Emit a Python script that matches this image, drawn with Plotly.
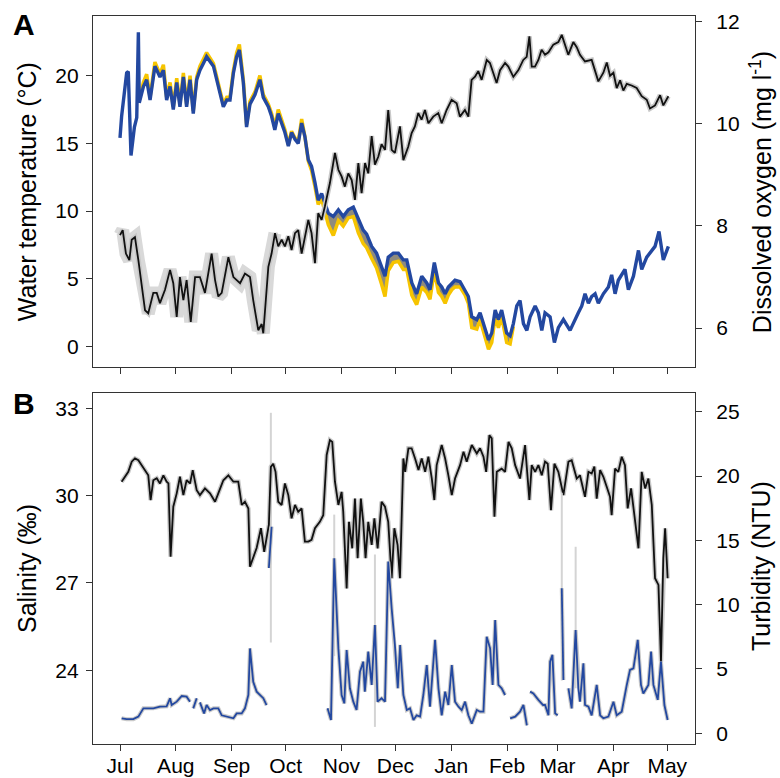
import pandas as pd
import plotly.graph_objects as go

BASE = pd.Timestamp("2016-07-01")

# ---------------- Panel A: water temperature (deg C) ----------------
temp_days = [0, 0.9, 3.7, 4.6, 6.1, 8, 9.3, 10.2, 10.7, 13, 14.8, 16.7, 19.4, 22.2, 24.1, 25.9, 27.8, 29.6,
             31.5, 33.3, 35.2, 37, 38.9, 40.7, 42.6, 44.4, 46.3, 48.1, 51.9, 53.7, 55.6, 57.4, 59.3, 61.1,
             63, 64.8, 66.3, 68.5, 70.3, 72.2, 75, 77.7, 79.6, 82.4, 84.2, 86, 87.9, 89.8, 91.6, 93.5, 95.3,
             97.2, 99, 100.9, 102.7, 104.6, 106.4, 108.3, 110.1, 112, 113.8, 115.7, 118.5, 121.3, 124,
             126.8, 129.6, 132.4, 135.1, 137, 139.8, 142.5, 145.3, 147.2, 149, 151.8, 154.6, 157.4, 159.3,
             162.1, 164.8, 167.6, 170.4, 172.2, 174.6, 176.9, 178.7, 180.6, 182.4, 184.3, 186.1, 188.9,
             191.7, 193.5, 195.4, 198.2, 200, 201.9, 204.7, 206.5, 208.4, 210.2, 212, 214.8, 216.7, 218.5,
             220.4, 222.2, 224.1, 226, 227.8, 230.6, 232.4, 234.3, 236.1, 238.9, 241.3, 243.5, 246.3, 250,
             251.9, 254.6, 256.5, 258.3, 260.2, 262, 263.9, 265.7, 268.5, 271.3, 273.1, 275, 276.8, 280.5,
             282.4, 285.2, 288, 289.8, 292.6, 295.4, 297.2, 299.4, 301.8, 304.6]
temp_blue = [15.4, 17.0, 20.2, 20.3, 14.1, 16.2, 16.9, 23.2, 18.0, 19.2, 19.7, 18.2, 20.7, 19.9, 20.4, 18.2,
             19.2, 17.5, 19.5, 17.7, 19.9, 17.7, 19.7, 17.2, 19.7, 20.4, 20.9, 21.4, 20.7, 19.7, 18.7, 17.7,
             18.2, 18.2, 20.2, 21.4, 21.9, 19.5, 16.2, 17.9, 18.6, 19.7, 18.4, 17.7, 17.0, 16.0, 17.2, 16.5,
             15.8, 14.8, 15.8, 15.3, 15.0, 16.5, 15.5, 13.8, 13.3, 12.1, 10.8, 11.3, 10.6, 9.85, 9.6, 10.1,
             9.6, 10.1, 10.3, 9.35, 8.6, 8.3, 7.4, 6.9, 5.9, 5.2, 6.6, 6.9, 6.9, 6.4, 6.4,
             4.7, 3.9, 5.2, 4.7, 4.2, 6.2, 4.7, 4.4, 3.9, 4.4, 4.7, 4.9, 4.8,
             4.2, 3.7, 2.2, 2.0, 2.5, 1.7, 0.5, 1.0, 2.7, 2.0, 2.7, 1.0, 0.8, 1.7,
             3.0, 3.4, 1.7, 1.2, 2.2, 3.0, 2.5, 1.2, 2.5, 2.2, 0.3, 1.4, 2.0, 1.2,
             1.8, 2.5, 3.0, 3.9, 3.2, 3.7, 3.9, 3.2, 3.9, 4.4, 5.3, 3.9, 4.9, 5.7,
             4.2, 5.2, 7.1, 5.7, 6.6, 7.1, 7.4, 8.5, 6.4, 7.4]

# second (yellow) sensor, where it shows beside the blue one
temp_yel_days = [10.7, 13, 14.8, 16.7, 19.4, 22.2, 24.1, 25.9, 27.8, 29.6, 31.5, 33.3, 35.2, 37, 38.9,
                 40.7, 42.6, 44.4, 46.3, 48.1, 51.9, 53.7, 55.6, 57.4, 59.3, 61.1, 63, 64.8, 66.3, 68.5,
                 70.3, 72.2, 75, 77.7, 79.6, 82.4, 84.2, 86, 87.9, 89.8, 91.6, 93.5, 95.3, 97.2, 99, 100.9,
                 102.7, 104.6, 106.4, 108.3, 110.1, 112, 113.8, 115.7, 118.5, 121.3, 124, 126.8, 129.6,
                 132.4, 135.1, 137, 139.8, 142.5, 145.3, 147.2, 149, 151.8, 154.6, 157.4, 159.3, 162.1,
                 164.8, 167.6, 170.4, 172.2, 174.6, 176.9, 178.7, 180.6, 182.4, 184.3, 186.1, 188.9, 191.7,
                 193.5, 195.4, 198.2, 200, 201.9, 204.7, 206.5, 208.4, 210.2, 212, 214.8, 216.7, 218.5]
temp_yel = [18.2, 19.5, 20.1, 18.4, 21.0, 20.1, 20.8, 18.4, 19.5, 17.7, 19.8, 17.9, 20.2, 17.9, 20.0,
            17.4, 19.9, 20.7, 21.2, 21.7, 20.9, 19.9, 18.9, 17.9, 18.4, 18.4, 20.4, 21.7, 22.3, 19.7,
            16.4, 18.1, 18.8, 20.0, 18.6, 17.9, 17.2, 16.2, 17.5, 16.7, 16.0, 14.9, 15.9, 15.4, 15.1, 16.8,
            15.5, 13.7, 13.0, 11.8, 10.5, 10.9, 10.0, 9.0, 8.2, 9.3, 8.9, 9.5, 9.6,
            8.4, 7.6, 7.3, 6.5, 5.8, 4.6, 3.7, 5.6, 6.2, 6.3, 5.7, 5.7, 3.8,
            3.1, 4.4, 4.0, 3.5, 5.6, 4.0, 3.7, 3.2, 3.8, 4.2, 4.4, 4.4, 3.8,
            3.2, 1.4, 1.3, 2.0, 1.1, -0.2, 0.3, 2.2, 1.4, 2.2, 0.3, 0.2, 1.5]

# ---------------- Panel A: dissolved oxygen (mg/l) ----------------
do_days = [0, 1.5, 3.3, 5.2, 6.5, 8.3, 10.2, 12, 13.9, 15.7, 18.5, 20.4, 22.2, 25, 27.8, 29.6, 31.5, 33.3,
           35.2, 37, 39.3, 41.7, 44.4, 47.2, 50.9, 52.8, 54.6, 56.5, 60.2, 63, 66.7, 69.4, 72.2, 74, 76.8,
           78.7, 79.6, 82.4, 84.2, 86.1, 87.9, 89.8, 91.6, 93.5, 95.3, 97.2, 99, 100.9, 102.7, 104.6, 106.4,
           108.3, 110.1, 112, 113.8, 116.6, 119.4, 121.3, 123.1, 124.9, 126.8, 128.7, 130.5, 132.4, 134.2,
           136.1, 137.9, 139.8, 141.6, 143.5, 145.3, 147.2, 149, 150.9, 152.7, 155.5, 157.4, 160.1, 162,
           163.8, 165.7, 167.5, 169.4, 171.3, 174, 176.8, 178.7, 181.4, 184.2, 187, 188.8, 191.6, 193.5,
           195.3, 197.2, 199, 200.9, 203.7, 205.5, 207.4, 209.2, 211.1, 213.9, 215.7, 218.5, 221.3, 224,
           225.9, 227.4, 228.7, 230.5, 232.4, 234.2, 236.1, 238, 240.7, 243.5, 245.4, 247.2, 249, 251.8,
           253.7, 255.5, 258.3, 262, 265.7, 268.5, 270.4, 272.2, 274.1, 275.9, 277.8, 279.6, 281.5, 284.2,
           287, 289.8, 292.6, 294.4, 297.2, 300, 301.8, 304.6]
do_vals = [7.82, 7.92, 7.46, 7.33, 7.73, 7.78, 7.33, 6.88, 6.35, 6.29, 6.69, 6.69, 6.49, 6.75, 7.14, 6.88,
           6.22, 7.0, 6.55, 6.94, 6.12, 7.0, 7.0, 6.69, 7.46, 6.94, 6.62, 6.69, 7.39, 7.0, 6.88, 7.07, 7.0,
           6.55, 5.96, 6.08, 5.9, 7.2, 7.46, 7.86, 7.6, 7.73, 7.6, 7.8, 7.53, 7.86, 7.92, 7.46, 7.8, 8.12,
           7.86, 7.27, 8.25, 8.12, 8.38, 8.84, 9.43, 9.1, 8.97, 8.77, 9.03, 8.9, 8.51, 9.23, 8.64,
           9.23, 9.03, 9.76, 9.2, 9.36, 9.6, 9.49, 10.27, 9.49, 9.43, 9.95, 9.29, 9.55, 9.82,
           9.95, 10.21, 10.08, 10.27, 10.01, 10.14, 10.21, 10.01, 10.27, 10.47, 10.4, 10.14, 10.27, 10.14,
           10.86, 10.92, 11.03, 10.86, 11.25, 11.19, 11.0, 10.8, 11.05, 11.19, 11.12, 10.92, 11.05, 11.25,
           11.31, 11.71, 11.12, 11.12, 11.25, 11.45, 11.35, 11.4, 11.55, 11.6, 11.74, 11.52, 11.35, 11.6,
           11.5, 11.35, 11.22, 11.25, 10.83, 11.0, 11.2, 10.94, 11.0, 10.7, 10.85, 10.65, 10.78, 10.75,
           10.7, 10.54, 10.47, 10.3, 10.36, 10.56, 10.36, 10.54]

# ---------------- Panel B: salinity (per mille) ----------------
sal_days = [0.9, 2.8, 4.6, 6.5, 8.3, 10.2, 12, 13.9, 15.7, 17, 18.5, 20.4, 22.2, 24.1, 25.9, 26.9, 28.1,
            29.6, 31.5, 33.3, 35.2, 37, 38.9, 40.4, 42.6, 44.4, 47.2, 50, 52.8, 54.6, 57.4, 60.2, 63, 65.7,
            67.6, 69.4, 71.3, 72.2, 74, 75.9, 78.3, 80.1, 82.7, 83.8, 85.1, 86.4, 87.9, 89.8, 91.6, 93.5,
            95.3, 97.2, 99, 100.9, 102.7, 104.6, 106.4, 108.3, 111, 112.9, 114.8, 116.6, 117.9, 119.4,
            121.3, 123.1, 124, 125.9, 127.2, 129, 130.5, 132, 133.8, 135.1, 136.4, 137.9, 139.8, 141.3,
            143.1, 145.3, 147.2, 149, 150.9, 152.4, 154.2, 155.5, 157.4, 158.4, 160.2, 162, 163.9, 165.8,
            167.6, 169.5, 171.3, 173.2, 174.6, 175.9, 178.7, 180.6, 182.4, 184.3, 186.1, 188.9, 190.8,
            192.6, 195.4, 198.2, 200, 201.9, 203.4, 205.2, 206.5, 208, 209.3, 212, 213.9, 215.8, 217.6,
            219.5, 222.2, 225, 227.4, 228.7, 230.6, 232.4, 234.3, 236.1, 237.6, 239.4, 241.3, 243.5,
            246.3, 249.1, 250.9, 253.7, 255.5, 258.3, 260.2, 262, 263.5, 264.8, 266.7, 268.5, 270.4,
            272.2, 273.1, 275, 276.8, 278.7, 280.5, 282, 283.9, 285.7, 288, 289.8, 291.7, 293.5, 295.4,
            297.2, 299.1, 300.5, 301.8, 302.8, 304.2]
sal_vals = [30.48, 30.65, 30.82, 31.17, 31.28, 31.22, 31.05, 30.88, 30.7, 29.85, 30.53, 30.6, 30.42, 30.7,
            30.48, 30.42, 27.9, 29.62, 30.08, 30.65, 30.02, 30.53, 30.42, 30.88, 30.19, 30.02, 30.25,
            30.08, 29.79, 30.08, 30.53, 30.7, 30.48, 30.48, 29.68, 29.79, 29.56, 27.56, 27.85, 28.2, 28.88,
            28.07, 29.0, 30.99, 31.1, 30.82, 29.79, 29.68, 30.42, 30.02, 29.22, 29.68, 29.45, 29.56, 28.42,
            28.42, 28.48, 28.88, 29.1, 29.33, 31.4, 31.91, 31.85, 30.48, 29.68, 30.13, 29.45, 26.81, 29.1,
            28.19, 29.9, 27.85, 29.9, 29.1, 27.85, 29.1, 28.31, 29.22, 28.19, 29.79, 29.62, 29.1, 27.16,
            28.88, 28.3, 27.16, 31.28, 30.82, 31.63, 31.63, 31.28, 30.88, 31.28, 30.82, 31.34, 30.59,
            29.85, 31.05, 31.74, 31.28, 30.7, 30.02, 30.59, 31.05, 31.51, 31.17, 31.74, 31.45, 31.63,
            31.34, 30.82, 32.08, 31.97, 29.28, 30.82, 30.93, 30.82, 31.85, 31.63, 31.05, 30.59, 31.74,
            29.85, 31.05, 30.82, 31.05, 30.7, 31.17, 31.1, 29.5, 31.1, 30.82, 30.02, 31.17, 31.22, 30.59,
            30.7, 29.96, 30.82, 30.76, 31.0, 29.9, 30.88, 30.65, 30.3, 29.96, 29.33, 30.93, 30.82, 31.34,
            31.05, 29.56, 30.25, 29.33, 28.19, 30.82, 30.25, 30.59, 29.68, 27.16, 26.93, 24.29, 27.85,
            28.88, 27.16]

# ---------------- Panel B: turbidity (NTU), None = no data ----------------
turb_days = [0.9, 3.7, 7.4, 10.2, 13, 15.7, 18.5, 22.2, 25.9, 27.8, 28.7, 31.5, 34.3, 37, 38.9, 39.8,
             40.7, 42.6, 43.5,
             44.4, 46.7, 48.1, 50, 51.9, 54.6, 56.5, 59.3, 63, 64.8, 67.6, 69.4, 71.3, 72.2, 74, 75.9, 77.7,
             79.6, 81.4, 82.0,
             82.7, 84.2, 100,
             115.3, 117.2, 119, 121.3, 123.1, 124.6, 125.9, 127.7, 129.6, 131.4, 133.3, 135.1, 136, 137.9,
             139.8, 141.6, 143.1, 145.3, 147.2, 149, 150.9, 152.7, 154.3, 155.6, 157.4, 159.3, 161.1, 163,
             164.8, 166.7, 168.5, 170.4, 172.2, 175, 176.9, 178.7, 180.6, 182.4, 184.3, 186.1, 188, 189.8,
             191.7, 193.5, 195.4, 198.2, 200, 201.9, 203.7, 205.6, 207, 208.4, 210.2, 212, 213.9, 215.3,
             216.7, 219.5, 222.2, 224.1, 226, 226.9,
             227.8, 229.6, 232.4, 235, 236.1, 238, 238.9, 240.2, 241.7, 243.1, 244.3,
             245.4, 246.3, 248,
             249.1, 250.9, 253.1, 254.6, 255.5, 257.4, 258.3, 260.2, 262, 264.8, 266.7, 268.5, 271.3,
             274.1, 275.9, 278.7, 281.5, 283.3, 285.2, 287.6, 289.4, 290.7, 293.5, 295, 296.3, 298.7,
             300.5, 302.4, 304.2]
turb_vals = [1.17, 1.1, 1.1, 1.3, 1.94, 1.94, 1.94, 2.07, 2.1, 2.72, 2.2, 2.46, 2.9, 2.85, 2.46, None,
             1.94, 2.72, None,
             2.4, 1.55, 2.2, 1.8, 1.94, 1.94, 1.4, 1.3, 1.17, 1.55, 1.55, 1.94, 2.98, 6.6, 4.0, 3.24, 2.98,
             2.73, 2.2, None,
             12.85, 16.06, None,
             1.94, 1.04, 13.6, 6.6, 2.98, 2.33, 6.48, 3.5, 2.46, 1.81, 4.79, 5.57, 3.24, 6.35,
             3.76, 8.42, 2.46, 2.72, 2.46, 13.35, 9.7, 6.87, 3.5, 6.87, 2.98, 1.81, 1.94, 1.04,
             1.4, 1.3, 2.98, 5.31, 2.07, 7.26, 3.5, 1.4, 3.24, 2.2, 5.31, 2.46, 2.07, 1.81,
             2.46, 1.4, 0.75, 1.81, 1.68, 1.68, 7.51, 6.6, 3.76, 8.81, 3.76, 3.5, 2.98, None,
             1.17, 1.3, 1.68, 2.2, 0.62, None,
             3.24, 3.1, 2.6, 2.2, 2.2, 1.4, 5.57, 6.1, 1.55, 1.4, None,
             11.28, 4.15, None,
             3.5, 1.94, 8.03, 3.5, 2.46, 5.44, 2.2, 2.07, 1.4, 3.76, 1.4, 1.17, 1.3,
             2.46, 1.4, 1.68, 3.76, 4.93, 5.05, 7.26, 3.76, 3.1, 3.76, 6.35, 3.76, 2.6,
             5.57, 2.2, 1.04]

# uncertainty spikes (grey)
sal_spike_days = [83.8, 83.8]
sal_spike_vals = [32.85, 24.95]
turb_spike_days = [141.6, 141.6, None, 245.4, 245.4, None, 253.1, 253.1, None, 119, 119]
turb_spike_vals = [0.5, 13.9, None, 4.1, 18.7, None, 3.5, 14.5, None, 6.0, 17.0]

month_ticks = ["2016-07-01", "2016-08-01", "2016-09-01", "2016-10-01", "2016-11-01", "2016-12-01",
               "2017-01-01", "2017-02-01", "2017-03-01", "2017-04-01", "2017-05-01"]
month_labels = ["Jul", "Aug", "Sep", "Oct", "Nov", "Dec", "Jan", "Feb", "Mar", "Apr", "May"]


def to_dates(days):
    return [None if d is None else BASE + pd.Timedelta(days=d) for d in days]


FONT = "Liberation Sans, Arial, sans-serif"
BLUE = "#2348a0"
YELLOW = "#f6c400"
GREY = "#c9c9c9"

fig = go.Figure()

# --- Panel A ---
wide_n = sum(1 for d in do_days if d <= 86.5)
fig.add_trace(go.Scatter(x=to_dates(do_days[:wide_n]), y=do_vals[:wide_n], xaxis="x", yaxis="y2",
                         mode="lines", line=dict(color="#d9d9d9", width=13), hoverinfo="skip"))
fig.add_trace(go.Scatter(x=to_dates(do_days), y=do_vals, xaxis="x", yaxis="y2",
                         mode="lines", line=dict(color=GREY, width=5), hoverinfo="skip"))
fig.add_trace(go.Scatter(x=to_dates(do_days), y=do_vals, xaxis="x", yaxis="y2",
                         mode="lines", line=dict(color="#111111", width=1.8), hoverinfo="skip"))

# band between the two temperature sensors
blue_at = dict(zip(temp_days, temp_blue))
band_x = temp_yel_days + temp_yel_days[::-1]
band_y = temp_yel + [blue_at[d] for d in temp_yel_days[::-1]]
fig.add_trace(go.Scatter(x=to_dates(band_x), y=band_y, xaxis="x", yaxis="y", mode="lines",
                         fill="toself", fillcolor="rgba(105,100,80,0.75)", line=dict(width=0),
                         hoverinfo="skip"))
fig.add_trace(go.Scatter(x=to_dates(temp_yel_days), y=temp_yel, xaxis="x", yaxis="y",
                         mode="lines", line=dict(color=YELLOW, width=3.5), hoverinfo="skip"))
fig.add_trace(go.Scatter(x=to_dates(temp_days), y=temp_blue, xaxis="x", yaxis="y",
                         mode="lines", line=dict(color=BLUE, width=3.4), hoverinfo="skip"))

# --- Panel B ---
fig.add_trace(go.Scatter(x=to_dates(sal_spike_days), y=sal_spike_vals, xaxis="x2", yaxis="y3",
                         mode="lines", line=dict(color="#d4d4d4", width=2), hoverinfo="skip"))
fig.add_trace(go.Scatter(x=to_dates(sal_days), y=sal_vals, xaxis="x2", yaxis="y3",
                         mode="lines", line=dict(color=GREY, width=4.5), hoverinfo="skip"))
fig.add_trace(go.Scatter(x=to_dates(sal_days), y=sal_vals, xaxis="x2", yaxis="y3",
                         mode="lines", line=dict(color="#111111", width=1.8), hoverinfo="skip"))
fig.add_trace(go.Scatter(x=to_dates(turb_spike_days), y=turb_spike_vals, xaxis="x2", yaxis="y4",
                         mode="lines", line=dict(color="#d4d4d4", width=2), hoverinfo="skip"))
fig.add_trace(go.Scatter(x=to_dates(turb_days), y=turb_vals, xaxis="x2", yaxis="y4",
                         mode="lines", line=dict(color=GREY, width=4), hoverinfo="skip",
                         connectgaps=False))
fig.add_trace(go.Scatter(x=to_dates(turb_days), y=turb_vals, xaxis="x2", yaxis="y4",
                         mode="lines", line=dict(color=BLUE, width=1.8), hoverinfo="skip",
                         connectgaps=False))

LINE = "#333333"
tickfont = dict(size=21, color="black", family=FONT)
common = dict(showline=True, linecolor=LINE, linewidth=1.2, ticks="outside", ticklen=6,
              tickwidth=1.2, tickcolor=LINE, showgrid=False, zeroline=False, tickfont=tickfont,
              automargin=False)
xrange = ["2016-06-16", "2017-05-16 09:36"]

fig.update_layout(
    template="none",
    width=780, height=778,
    margin=dict(l=93, r=85, t=16, b=34),
    paper_bgcolor="white", plot_bgcolor="white",
    showlegend=False,
    font=dict(family=FONT, color="black"),
    xaxis=dict(common, type="date", range=xrange, domain=[0, 1], anchor="y", mirror=True,
               tickvals=month_ticks, ticktext=month_labels, showticklabels=False),
    xaxis2=dict(common, type="date", range=xrange, domain=[0, 1], anchor="y3", mirror=True,
                tickvals=month_ticks, ticktext=month_labels, showticklabels=True,
                ticklabelstandoff=-3),
    yaxis=dict(common, domain=[0.5179, 1], range=[-1.5, 24.4], tickvals=[0, 5, 10, 15, 20],
               anchor="x", ticklabelstandoff=3),
    yaxis2=dict(common, overlaying="y", side="right", range=[5.24, 12.11], tickvals=[6, 8, 10, 12],
                anchor="x", ticklabelstandoff=10),
    yaxis3=dict(common, domain=[0, 0.4821], range=[21.46, 33.53], tickvals=[24, 27, 30, 33],
                anchor="x2", ticklabelstandoff=3),
    yaxis4=dict(common, overlaying="y3", side="right", range=[-0.83, 26.45],
                tickvals=[0, 5, 10, 15, 20, 25], anchor="x2", ticklabelstandoff=10),
)

title_font = dict(size=25, color="black", family=FONT)
annos = [
    dict(text="Water temperature (°C)", x=-0.1096, y=0.758, textangle=-90),
    dict(text="Dissolved oxygen (mg l<sup>-1</sup>)", x=1.1096, y=0.758, textangle=-90),
    dict(text="Salinity (‰)", x=-0.1096, y=0.2404, textangle=-90),
    dict(text="Turbidity (NTU)", x=1.1096, y=0.2445, textangle=-90),
]
for a in annos:
    fig.add_annotation(xref="paper", yref="paper", showarrow=False, xanchor="center",
                       yanchor="middle", font=title_font, **a)
fig.add_annotation(text="<b>A</b>", x=-0.1146, y=0.989, xref="paper", yref="paper", showarrow=False,
                   xanchor="center", yanchor="middle", font=dict(size=30, color="black", family=FONT))
fig.add_annotation(text="<b>B</b>", x=-0.1146, y=0.4684, xref="paper", yref="paper", showarrow=False,
                   xanchor="center", yanchor="middle", font=dict(size=30, color="black", family=FONT))

fig.write_html(
    "out.html",
    config={"displayModeBar": False},
    post_script=("document.body.style.margin='0';document.body.style.padding='0';"
                 "document.documentElement.style.overflow='hidden';"),
)
